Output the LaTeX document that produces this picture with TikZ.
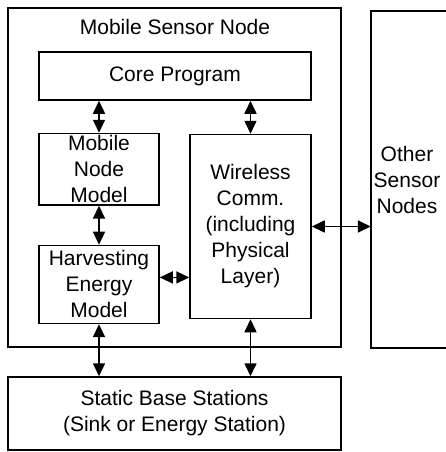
\documentclass[tikz,border=0pt]{standalone}
\usepackage{fontspec}
\setmainfont{Liberation Sans}
\usepackage{tikz}
\usetikzlibrary{positioning, arrows.meta}
\tikzset{
    box_base/.style={rectangle, draw=black, line width=1.5pt, align=center, inner sep=2pt},
    flecha/.style={{Triangle[length=13pt, width=12pt]}-{Triangle[length=13pt, width=12pt]}, line width=1.6pt}
}

\begin{document}
\begin{tikzpicture}[
            x=1pt, y=-1pt,
            font=\fontsize{21}{26}\selectfont,
            % Estilos de las cajas
            box_nodo/.style={box_base, minimum width=333pt, minimum height=339pt},
            box_ancha/.style={box_base, minimum width=272pt, minimum height=48pt},
            box_modelo/.style={box_base, minimum width=120pt},
            box_externa/.style={box_base, minimum width=333pt, minimum height=73pt}
        ]
            \useasboundingbox (0,0) rectangle (446,452);
            \clip (0,0) rectangle (446,452);

            % 1. Nodo sensor movil (marco exterior)
            \node[box_nodo] (msn) at (174.5,177.5) {};
            \node (titulo) at (175,27) {Mobile Sensor Node};

            % 2. Programa central
            \node[box_ancha] (core) at (175,76) {Core Program};

            % 3. Modelos (columna izquierda)
            \node[box_modelo, minimum height=67pt, below=32pt of core.south west, anchor=north west] (mob_node) {Mobile\\Node\\Model};
            \node[box_modelo, minimum height=78pt, below=39pt of mob_node] (harv_node) {Harvesting\\Energy\\Model};

            % 4. Comunicacion inalambrica (columna derecha)
            \node[box_modelo, minimum width=121pt, minimum height=184pt, below=33pt of core.south east, anchor=north east] (wl_node) {Wireless\\Comm.\\(including\\Physical\\Layer)};

            % 5. Otros nodos (el borde derecho queda fuera de la imagen)
            \node[align=center, minimum width=72pt, minimum height=337pt, inner sep=0pt] (other_node) at (407,179.5) {Other\\Sensor\\Nodes};
            \draw[line width=1.5pt] ([xshift=30pt]other_node.north east) -- (other_node.north west)
                -- (other_node.south west) -- ([xshift=30pt]other_node.south east);

            % 6. Estaciones base
            \node[box_externa] (base_node) at (174.5,413.5) {Static Base Stations\\(Sink or Energy Station)};

            % --- CONEXIONES ---
            \draw[flecha] (core.south -| mob_node.north) -- (mob_node.north);
            \draw[flecha] (core.south -| wl_node.north) -- (wl_node.north);
            \draw[flecha] (mob_node.south) -- (harv_node.north);
            \draw[flecha] ([yshift=7pt]harv_node.east) -- ([yshift=7pt]harv_node.east -| wl_node.west);
            \draw[flecha] (wl_node.east) -- (wl_node.east -| other_node.west);
            \draw[flecha] (harv_node.south) -- (base_node.north -| harv_node.south);
            \draw[flecha] (wl_node.south) -- (base_node.north -| wl_node.south);

        \end{tikzpicture}
\end{document}
